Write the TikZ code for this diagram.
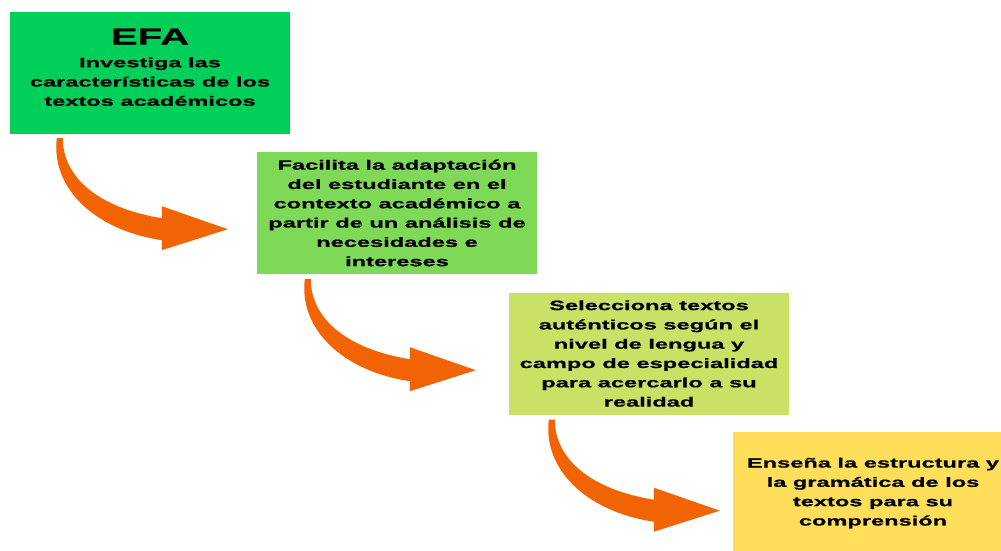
\documentclass[tikz,border=0pt]{standalone}
\usepackage{fontspec}
\setmainfont{Liberation Sans}[FakeStretch=1.75, FakeBold=0.8]
\definecolor{efagreen}{RGB}{0,207,90}
\definecolor{stepgreen}{RGB}{126,217,87}
\definecolor{steplime}{RGB}{201,226,101}
\definecolor{stepyellow}{RGB}{255,222,89}
\definecolor{arroworange}{RGB}{241,99,3}
\tikzset{
	stepbox/.style={rectangle, minimum width=280, minimum height=122, inner sep=0pt, align=center, font=\fontsize{13.5}{19.3}\selectfont\bfseries},
	bentarrow/.pic={
		\fill[arroworange] (-3,0) .. controls (-9,50) and (35,92) .. (102,102) -- (102,112) -- (168,91) -- (102,68) -- (102,80) .. controls (40,70) and (3,40) .. (3,0) -- cycle;
	}
}
\begin{document}
\begin{tikzpicture}[x=1pt,y=-1pt]
		\useasboundingbox (0,0) rectangle (1001,550);
		\clip (0,0) rectangle (1001,550);
		
		\node[stepbox, fill=efagreen] (b1) at (150,73) {};
		\node[stepbox, minimum width=0, minimum height=0] (t1) at (150,67.3) {{\fontsize{23}{23}\selectfont EFA}\\[3.4pt]Investiga las\\características de los\\textos académicos};
		\node[stepbox, fill=stepgreen] (b2) at (397,213) {Facilita la adaptación\\del estudiante en el\\contexto académico a\\partir de un análisis de\\necesidades e\\intereses};
		\node[stepbox, fill=steplime] (b3) at (649,353.5) {Selecciona textos\\auténticos según el\\nivel de lengua y\\campo de especialidad\\para acercarlo a su\\realidad};
		\node[stepbox, fill=stepyellow] (b4) at (873,493) {Enseña la estructura y\\la gramática de los\\textos para su\\comprensión};
		
		\pic at ([shift={(50,4)}]b1.south west) {bentarrow};
		\pic at ([shift={(51,5)}]b2.south west) {bentarrow};
		\pic at ([shift={(43,5)}]b3.south west) {bentarrow};
	\end{tikzpicture}
\end{document}
